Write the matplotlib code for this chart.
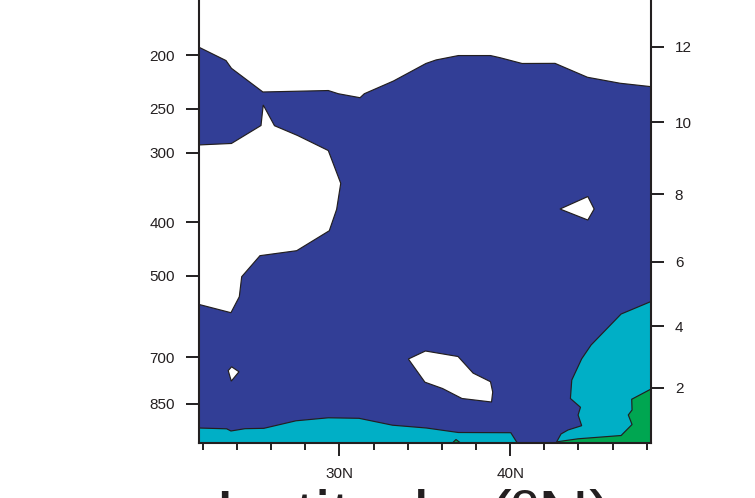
import numpy as np
import matplotlib
matplotlib.use("Agg")
import matplotlib.pyplot as plt
from matplotlib.patches import Polygon
from matplotlib.ticker import NullLocator, FixedLocator

plt.rcParams['font.family'] = ['Liberation Sans', 'DejaVu Sans']

# ---- contour-band outlines (latitude in degrees N, pressure in hPa) ----
# upper edge of the lowest filled level
top_lat = [21.75, 23.36, 23.68, 25.52, 29.35, 29.94, 31.21, 31.46, 33.17, 35.07,
           35.66, 36.97, 38.85, 39.41, 40.70, 42.63, 44.53, 46.44, 48.25]
top_p = [193.4, 204.6, 211.3, 233.1, 231.7, 234.8, 238.7, 234.8, 222.7, 207.1,
         204.1, 200.4, 200.4, 202.2, 207.1, 207.0, 219.3, 224.8, 228.0]

# unfilled tongue reaching in from the southern edge
gap_lat = [21.75, 23.68, 25.41, 25.54, 26.20, 27.55, 29.35, 30.08, 29.84, 29.41,
           27.50, 25.35, 24.28, 24.14, 23.65, 21.75]
gap_p = [290.4, 288.6, 267.9, 246.0, 268.1, 279.2, 297.2, 340.5, 379.3, 414.5,
         450.3, 459.7, 501.6, 545.0, 582.4, 562.5]

# small unfilled pockets
hole_w_lat = [23.49, 23.69, 24.12, 23.67]
hole_w_p = [740.5, 728.9, 744.2, 773.5]
hole_e_lat = [42.92, 44.55, 44.92, 44.55]
hole_e_p = [378.8, 359.7, 378.8, 396.5]
hole_c_lat = [34.04, 35.04, 36.95, 37.83, 38.85, 38.98, 38.91, 37.18, 36.04, 35.01]
hole_c_p = [705.8, 682.7, 698.5, 748.2, 775.5, 809.4, 843.6, 831.4, 797.6, 777.0]

# second level: near-surface layer in the south
low_lat = [21.75, 23.40, 23.65, 24.47, 25.58, 27.46, 29.35, 31.15, 33.11, 35.10,
           36.97, 40.04, 40.37, 40.45]
low_p = [939.7, 942.8, 951.4, 942.4, 940.9, 912.0, 900.7, 902.6, 928.8, 939.7,
         957.4, 958.2, 994.6, 1000.0]

# second level: northern lower troposphere
east_lat = [42.68, 42.73, 42.98, 43.39, 44.19, 43.98, 44.12, 43.53, 43.61, 44.19,
            44.74, 46.50, 48.25]
east_p = [1000.0, 994.6, 963.3, 947.5, 930.7, 890.3, 862.2, 831.4, 770.3, 705.3,
          666.0, 585.6, 556.0]

# third level
green_lat = [42.75, 42.78, 43.98, 46.50, 47.14, 46.92, 47.14, 47.12, 48.25]
green_p = [1000.0, 994.6, 982.7, 969.4, 926.1, 890.3, 871.9, 834.0, 799.4]
blob_lat = [36.62, 36.83, 37.10]
blob_p = [1000.0, 985.6, 1000.0]

lat_min, lat_max = 21.75, 48.25
p_bottom, p_top = 1000.0, 100.0

p_ticks = [200, 250, 300, 400, 500, 700, 850]
lat_ticks = [30, 40]
lat_labels = ["30N", "40N"]
z_ticks = [2, 4, 6, 8, 10, 12]

level_colors = ["#323E96", "#00AFC6", "#00A651"]
edge = "#231F20"


def std_atm_pressure(z_km):
    z = z_km * 1000.0
    if z <= 11000:
        return 1013.25 * (1 - 2.25577e-5 * z) ** 5.25588
    return 226.32 * np.exp(-(z - 11000) / 6341.62)


def closed(lat, p, extra=()):
    pts = list(zip(lat, p)) + list(extra)
    return np.array(pts)


fig = plt.figure(figsize=(7.55, 4.98), dpi=100)
ax = fig.add_axes([198.5 / 755, 55 / 498, 452.5 / 755, 555 / 498])
ax.set_yscale("log")
ax.set_xlim(lat_min, lat_max)
ax.set_ylim(p_bottom, p_top)

lw = 0.85
shapes = [
    (closed(top_lat, top_p, [(lat_max, p_bottom), (lat_min, p_bottom)]), level_colors[0]),
    (closed(gap_lat, gap_p), "white"),
    (closed(hole_w_lat, hole_w_p), "white"),
    (closed(hole_e_lat, hole_e_p), "white"),
    (closed(hole_c_lat, hole_c_p), "white"),
    (closed(low_lat, low_p, [(lat_min, p_bottom)]), level_colors[1]),
    (closed(east_lat, east_p, [(lat_max, p_bottom)]), level_colors[1]),
    (closed(green_lat, green_p, [(lat_max, p_bottom)]), level_colors[2]),
    (closed(blob_lat, blob_p), level_colors[2]),
]
for verts, col in shapes:
    ax.add_patch(Polygon(verts, closed=True, facecolor=col, edgecolor=edge,
                         linewidth=lw, joinstyle="miter", zorder=2))

for s in ax.spines.values():
    s.set_linewidth(1.5)
    s.set_color(edge)
    s.set_zorder(5)

ax.yaxis.set_major_locator(FixedLocator(p_ticks))
ax.yaxis.set_minor_locator(NullLocator())
ax.set_yticklabels([str(v) for v in p_ticks])
ax.set_xticks(lat_ticks)
ax.set_xticklabels(lat_labels)
ax.xaxis.set_minor_locator(FixedLocator([v for v in range(22, 49, 2) if v not in lat_ticks]))
ax.tick_params(axis="both", which="major", direction="out", length=9.5, width=1.4,
               color=edge, labelsize=11, labelcolor=edge, pad=7.6)
ax.tick_params(axis="x", which="minor", direction="out", length=4.7, width=1.4, color=edge)
ax.tick_params(axis="y", which="both", right=False)

axr = ax.twinx()
axr.set_yscale("log")
axr.set_ylim(p_bottom, p_top)
axr.yaxis.set_major_locator(FixedLocator([std_atm_pressure(z) for z in z_ticks]))
axr.yaxis.set_minor_locator(NullLocator())
axr.set_yticklabels([str(z) for z in z_ticks])
axr.tick_params(axis="y", which="major", direction="out", length=9.5, width=1.4,
                color=edge, labelsize=11, labelcolor=edge, pad=7.6)
for s in axr.spines.values():
    s.set_visible(False)

fig.text(414.5 / 755, (498 - 540) / 498, "Latitude (ºN)", ha="center", va="baseline",
         fontsize=51, color=edge)

fig.savefig("out.png", dpi=100)
